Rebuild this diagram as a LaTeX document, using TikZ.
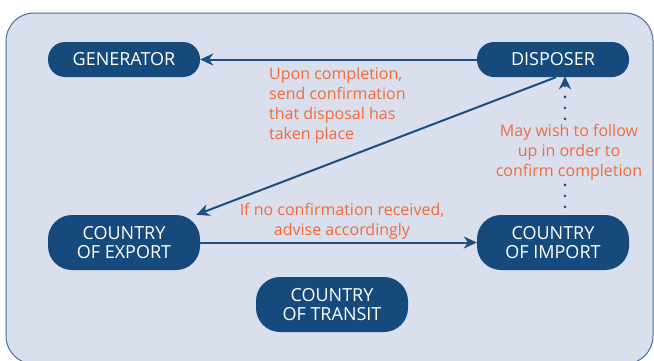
\documentclass[tikz,border=0pt]{standalone}
\usepackage{fontspec}
\setmainfont{Open Sans}
\usetikzlibrary{arrows.meta}
\definecolor{bgfill}{HTML}{D9DFED}
\definecolor{bgline}{HTML}{4A70A0}
\definecolor{boxfill}{HTML}{164A7D}
\definecolor{arrowc}{HTML}{1C4E80}
\definecolor{noteorange}{HTML}{F26B3A}
\tikzset{
  party/.style={fill=boxfill, text=white, rounded corners=17pt, minimum width=152pt, minimum height=35pt, inner sep=0pt, align=center, font=\fontsize{18pt}{19pt}\selectfont},
  party2/.style={party, minimum height=55pt, rounded corners=24pt},
  flow/.style={draw=arrowc, line width=2pt, -{Stealth[length=13pt,width=12pt,inset=4pt]}},
  dotflow/.style={draw=arrowc, line width=3pt, line cap=round, dash pattern=on 0pt off 11pt, -{Stealth[length=13pt,width=12pt,inset=4pt]}},
  note/.style={text=noteorange, font=\fontsize{16pt}{20pt}\selectfont, inner sep=0pt}
}
\begin{document}
\begin{tikzpicture}[x=1pt,y=-1pt]
\clip (0,0) rectangle (654,360);
\draw[fill=bgfill, draw=bgline, line width=1pt, rounded corners=28pt] (6,13) rectangle (653,364);
\node[party] (gen) at (124,59.5) {GENERATOR};
\node[party] (disp) at (553,59.5) {DISPOSER};
\node[party2] (exp) at (124,242.5) {COUNTRY\\OF EXPORT};
\node[party2] (imp) at (553,242.5) {COUNTRY\\OF IMPORT};
\node[party2] (tra) at (332,304.5) {COUNTRY\\OF TRANSIT};
\draw[flow] (disp) -- (gen);
\draw[flow] ([xshift=3pt]disp.south) -- (exp);
\draw[flow] (exp) -- (imp);
\coordinate (dtop) at ([xshift=12pt]disp.south);
\coordinate (dbot) at ([xshift=12pt]imp.north);
\draw[dotflow] ([yshift=-3pt]dbot) -- ([yshift=1pt]dtop);
\node[note, anchor=north west, align=left] (n1) at (269,67) {Upon completion,\\send confirmation\\that disposal has\\taken place};
\node[note, align=center, fill=bgfill, inner ysep=1pt] (n2) at (569,152) {May wish to follow\\up in order to\\confirm completion};
\node[note, align=center] (n3) at (342,221) {If no confirmation received,\\advise accordingly};
\end{tikzpicture}
\end{document}
